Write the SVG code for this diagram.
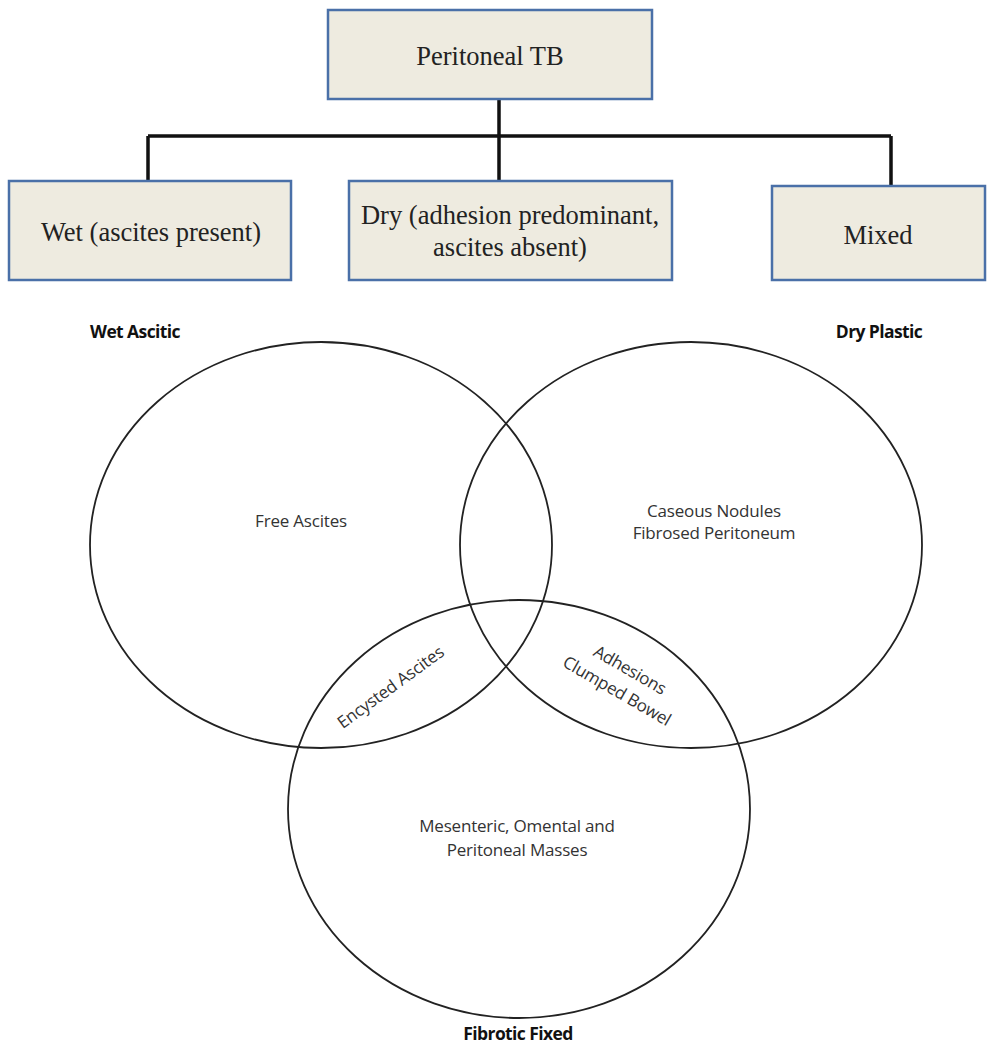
<svg xmlns="http://www.w3.org/2000/svg" width="987" height="1046" viewBox="0 0 987 1046">
<style>
.box{fill:#eeebe0;stroke:#4a70a8;stroke-width:2.5}
.bt{font-family:"Liberation Serif",serif;font-size:26.5px;fill:#222;text-anchor:middle}
.conn{stroke:#111;stroke-width:3.5;fill:none}
.venn{fill:none;stroke:#222;stroke-width:1.8}
.vt{font-family:"Open Sans","Liberation Sans",sans-serif;font-size:17px;fill:#333;text-anchor:middle;letter-spacing:-0.2px}
.hd{font-family:"Open Sans","Liberation Sans",sans-serif;font-size:17.5px;font-weight:bold;fill:#111;text-anchor:middle;letter-spacing:-0.6px}
</style>
<rect width="987" height="1046" fill="#fff"/>
<g id="connectors">
<path class="conn" d="M499 100V181M148 136H891M148 136V181M891 136V186"/>
</g>
<g id="peritoneal-tb"><rect class="box" x="328" y="10" width="324" height="89"/><text class="bt" x="490" y="65">Peritoneal TB</text></g>
<g id="wet"><rect class="box" x="9" y="181" width="282" height="99"/><text class="bt" x="151" y="241">Wet (ascites present)</text></g>
<g id="dry"><rect class="box" x="349" y="181" width="323" height="99"/><text class="bt" x="510" y="224">Dry (adhesion predominant,</text><text class="bt" x="510" y="256">ascites absent)</text></g>
<g id="mixed"><rect class="box" x="772" y="186" width="213" height="94"/><text class="bt" x="878" y="244">Mixed</text></g>
<g id="venn">
<ellipse class="venn" cx="321" cy="545" rx="231" ry="203"/>
<ellipse class="venn" cx="691" cy="545" rx="231" ry="203"/>
<ellipse class="venn" cx="519" cy="809" rx="231" ry="209"/>
</g>
<g id="labels">
<text class="hd" x="135" y="338">Wet Ascitic</text>
<text class="hd" x="879" y="338">Dry Plastic</text>
<text class="hd" x="518" y="1040">Fibrotic Fixed</text>
<text class="vt" x="301" y="527">Free Ascites</text>
<text class="vt" x="714" y="517">Caseous Nodules</text>
<text class="vt" x="714" y="539">Fibrosed Peritoneum</text>
<text class="vt" x="517" y="832">Mesenteric, Omental and</text>
<text class="vt" x="517" y="856">Peritoneal Masses</text>
<text class="vt" transform="translate(394 692) rotate(-36)">Encysted Ascites</text>
<text class="vt" transform="translate(627 675) rotate(30)">Adhesions</text>
<text class="vt" transform="translate(614 696) rotate(30)">Clumped Bowel</text>
</g>
</svg>
